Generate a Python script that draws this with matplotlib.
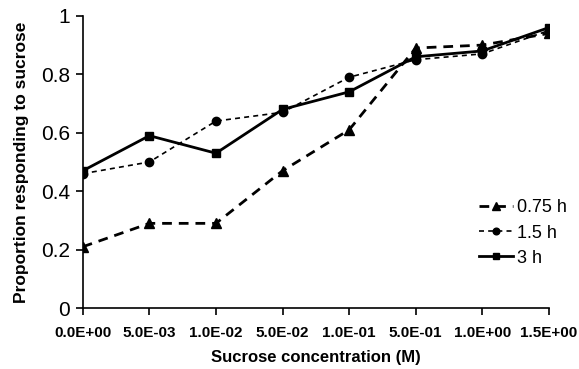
import matplotlib
matplotlib.use("Agg")
from matplotlib import pyplot as plt

plt.rcParams['font.family'] = ['Liberation Sans', 'DejaVu Sans']

# Data
concentrations = ['0.0E+00', '5.0E-03', '1.0E-02', '5.0E-02',
                  '1.0E-01', '5.0E-01', '1.0E+00', '1.5E+00']
h075 = [0.21, 0.29, 0.29, 0.47, 0.61, 0.89, 0.90, 0.94]
h15 = [0.46, 0.50, 0.64, 0.67, 0.79, 0.85, 0.87, 0.95]
h3 = [0.47, 0.59, 0.53, 0.68, 0.74, 0.86, 0.88, 0.96]

x = list(range(len(concentrations)))

fig = plt.figure(figsize=(5.79, 3.69), dpi=100)
ax = fig.add_axes([0.143, 0.165, 0.805, 0.792])

ax.plot(x, h075, color='black', linestyle=(0, (3.5, 2.5)), linewidth=2,
        marker='^', markersize=7, label='0.75 h')
ax.plot(x, h15, color='black', linestyle=(0, (3, 2.5)), linewidth=1.2,
        marker='o', markersize=6, label='1.5 h')
ax.plot(x, h3, color='black', linestyle='-', linewidth=2,
        marker='s', markersize=6, label='3 h')

ax.set_xlim(0, 7)
ax.set_ylim(0, 1)
ax.set_xticks(x)
ax.set_xticklabels(concentrations, fontsize=11, fontweight='bold')
ax.set_yticks([0, 0.2, 0.4, 0.6, 0.8, 1.0])
ax.set_yticklabels(['0', '0.2', '0.4', '0.6', '0.8', '1'], fontsize=15)

for side in ['top', 'right']:
    ax.spines[side].set_visible(False)
for side in ['left', 'bottom']:
    ax.spines[side].set_linewidth(1.2)
ax.tick_params(direction='out', length=5, width=1.2)
ax.tick_params(axis='x', pad=8)
ax.tick_params(axis='y', pad=4)

ax.set_xlabel('Sucrose concentration (M)', fontsize=12, fontweight='bold', labelpad=7)
ax.set_ylabel('Proportion responding to sucrose', fontsize=12.5, fontweight='bold', labelpad=9)

ax.legend(loc='center left', bbox_to_anchor=(0.85, 0.257), frameon=False,
          fontsize=13, handlelength=1.9, handletextpad=0.2, markerscale=0.8,
          borderpad=0, borderaxespad=0, labelspacing=0.45)

plt.savefig("out.png", dpi=100)
